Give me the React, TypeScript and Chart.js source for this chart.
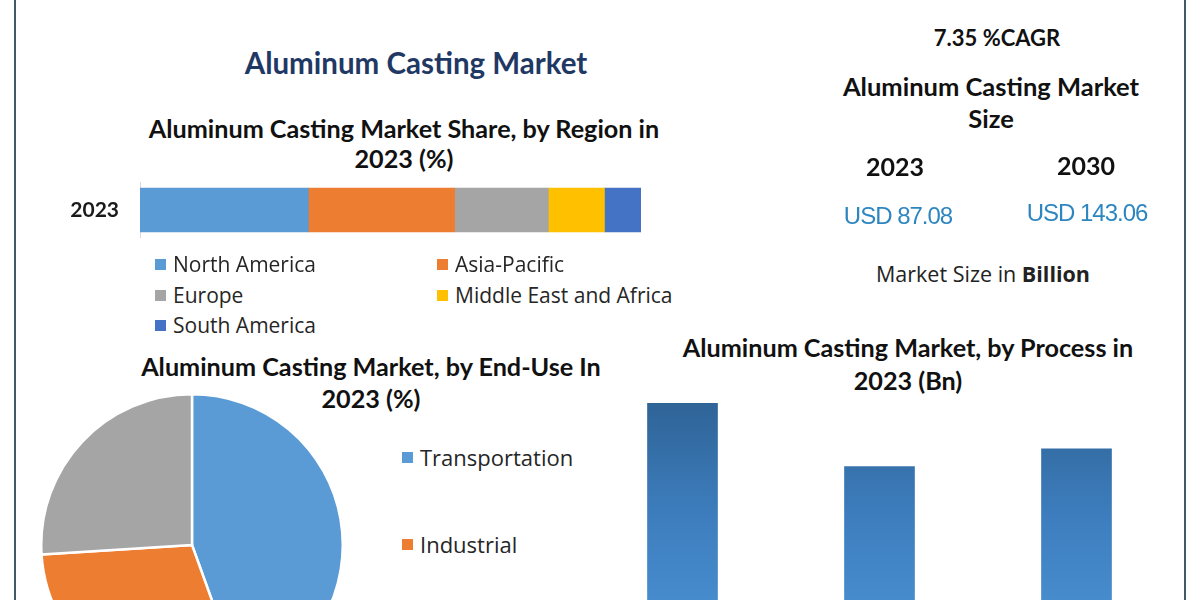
import React, { useEffect, useRef } from "react";
import Chart from "chart.js/auto";

// ---------- data ----------
const mainTitle = "Aluminum Casting Market";
const regionTitle = ["Aluminum Casting Market Share, by Region in", "2023 (%)"];
const regionCategories = ["2023"];
const regionNames = ["North America", "Asia-Pacific", "Europe", "Middle East and Africa", "South America"];
const regionShares = [33.6, 29.2, 18.7, 11.2, 7.3];

const endUseTitle = ["Aluminum Casting Market, by End-Use In", "2023 (%)"];
const endUseLabels = ["Transportation", "Industrial", "Others"];
const endUseShares = [44.5, 29.5, 26.0];

const processTitle = ["Aluminum Casting Market, by Process in", "2023 (Bn)"];
const processLabels = ["Die Casting", "Permanent Mold Casting", "Sand Casting"];
const processValues = [35, 26, 28.5];

const cagrText = "7.35 %CAGR";
const sizeTitle = ["Aluminum Casting Market", "Size"];
const sizeYears = ["2023", "2030"];
const sizeValues = ["USD 87.08", "USD 143.06"];

// ---------- styles ----------
const palette = ["#5b9bd5", "#ed7d31", "#a5a5a5", "#ffc000", "#4472c4"];
const TITLE_FONT = "Lato, 'Noto Sans', sans-serif";
const BODY_FONT = "'Open Sans', 'Noto Sans', sans-serif";

type TxtProps = { cx: number; cy: number; size: number; weight?: number; color?: string; font?: string; ls?: string; children: React.ReactNode };
function Txt({ cx, cy, size, weight = 700, color = "#111", font = TITLE_FONT, ls, children }: TxtProps) {
  const lh = Math.round(size * 1.25);
  return (
    <div
      style={{
        position: "absolute",
        left: cx - 320,
        width: 640,
        top: cy - lh / 2,
        lineHeight: `${lh}px`,
        fontSize: size,
        fontWeight: weight,
        color,
        fontFamily: font,
        textAlign: "center",
        whiteSpace: "nowrap",
        letterSpacing: ls,
      }}
    >
      {children}
    </div>
  );
}

function LegendItem({ x, cy, color, label, size }: { x: number; cy: number; color: string; label: string; size: number }) {
  return (
    <div
      style={{
        position: "absolute",
        left: x,
        top: cy - 14,
        height: 28,
        lineHeight: "28px",
        display: "flex",
        alignItems: "center",
        fontFamily: BODY_FONT,
        fontSize: size,
        color: "#262626",
        whiteSpace: "nowrap",
      }}
    >
      <span style={{ display: "inline-block", width: 11, height: 11, background: color, marginRight: 7 }} />
      {label}
    </div>
  );
}

export default function App() {
  const regionRef = useRef<HTMLCanvasElement>(null);
  const pieRef = useRef<HTMLCanvasElement>(null);
  const barRef = useRef<HTMLCanvasElement>(null);

  useEffect(() => {
    const charts: Chart[] = [];

    charts.push(
      new Chart(regionRef.current!, {
        type: "bar",
        data: {
          labels: regionCategories,
          datasets: regionNames.map((n, i) => ({
            label: n,
            data: [regionShares[i]],
            backgroundColor: palette[i],
            barThickness: 44,
            borderWidth: 0,
          })),
        },
        options: {
          responsive: false,
          animation: false,
          indexAxis: "y",
          layout: { padding: 0 },
          plugins: { legend: { display: false }, tooltip: { enabled: false } },
          scales: {
            x: { stacked: true, min: 0, max: 100, display: false },
            y: {
              stacked: true,
              grid: { display: false },
              border: { display: true, color: "#d9d9d9", width: 1 },
              ticks: { color: "#1a1a1a", font: { family: TITLE_FONT, size: 21, weight: "bold" }, padding: 13 },
              afterFit: (s: any) => {
                s.width = 100;
              },
            },
          },
        },
      })
    );

    charts.push(
      new Chart(pieRef.current!, {
        type: "pie",
        data: {
          labels: endUseLabels,
          datasets: [
            {
              data: endUseShares,
              backgroundColor: [palette[0], palette[1], palette[2]],
              borderColor: "#ffffff",
              borderWidth: 2.5,
            },
          ],
        },
        options: {
          responsive: false,
          animation: false,
          layout: { padding: 0 },
          plugins: { legend: { display: false }, tooltip: { enabled: false } },
        },
      })
    );

    charts.push(
      new Chart(barRef.current!, {
        type: "bar",
        data: {
          labels: processLabels,
          datasets: [
            {
              data: processValues,
              barThickness: 70,
              borderWidth: 0,
              backgroundColor: (ctx: any) => {
                const { chart } = ctx;
                const area = chart.chartArea;
                if (!area) return "#3f80c0";
                const g = chart.ctx.createLinearGradient(0, area.top, 0, area.bottom);
                g.addColorStop(0, "#2f6497");
                g.addColorStop(0.45, "#3d7dbd");
                g.addColorStop(1, "#4c94d6");
                return g;
              },
            },
          ],
        },
        options: {
          responsive: false,
          animation: false,
          layout: { padding: 0 },
          plugins: { legend: { display: false }, tooltip: { enabled: false } },
          scales: {
            x: { display: false },
            y: { display: false, min: 0, max: 35 },
          },
        },
      })
    );

    return () => charts.forEach((c) => c.destroy());
  }, []);

  const valueFont = "'Liberation Sans', Arial, sans-serif";

  return (
    <div
      style={{
        position: "fixed",
        left: 0,
        top: 0,
        width: 1200,
        height: 600,
        overflow: "hidden",
        background: "#ffffff",
      }}
    >
      {/* frame lines */}
      <div style={{ position: "absolute", left: 14, top: 0, width: 2, height: 600, background: "#3f5b66" }} />
      <div style={{ position: "absolute", left: 1184, top: 0, width: 2, height: 600, background: "#3f5b66" }} />

      <Txt cx={416} cy={62} size={29.5} color="#1f3864">{mainTitle}</Txt>

      <Txt cx={404} cy={128} size={25.2}>{regionTitle[0]}</Txt>
      <Txt cx={404} cy={158} size={25.2}>{regionTitle[1]}</Txt>

      <canvas ref={regionRef} width={601} height={106} style={{ position: "absolute", left: 40, top: 157 }} />

      <LegendItem x={155} cy={264} color={palette[0]} label={regionNames[0]} size={21} />
      <LegendItem x={437} cy={264} color={palette[1]} label={regionNames[1]} size={21} />
      <LegendItem x={155} cy={295} color={palette[2]} label={regionNames[2]} size={21} />
      <LegendItem x={437} cy={295} color={palette[3]} label={regionNames[3]} size={21} />
      <LegendItem x={155} cy={325} color={palette[4]} label={regionNames[4]} size={21} />

      <Txt cx={371} cy={366} size={25.2}>{endUseTitle[0]}</Txt>
      <Txt cx={371} cy={398} size={25.2}>{endUseTitle[1]}</Txt>

      <canvas ref={pieRef} width={304} height={304} style={{ position: "absolute", left: 40, top: 393 }} />

      <LegendItem x={402} cy={457} color={palette[0]} label={endUseLabels[0]} size={22} />
      <LegendItem x={402} cy={544} color={palette[1]} label={endUseLabels[1]} size={22} />
      <LegendItem x={402} cy={631} color={palette[2]} label={endUseLabels[2]} size={22} />

      <Txt cx={908} cy={347} size={25.2}>{processTitle[0]}</Txt>
      <Txt cx={908} cy={380} size={25.2}>{processTitle[1]}</Txt>

      <canvas ref={barRef} width={591} height={247} style={{ position: "absolute", left: 584, top: 403 }} />

      <Txt cx={997} cy={38} size={22}>{cagrText}</Txt>
      <Txt cx={991} cy={86} size={25.5}>{sizeTitle[0]}</Txt>
      <Txt cx={991} cy={118} size={25.5}>{sizeTitle[1]}</Txt>
      <Txt cx={895} cy={166} size={25}>{sizeYears[0]}</Txt>
      <Txt cx={1086} cy={165} size={25}>{sizeYears[1]}</Txt>
      <Txt cx={898} cy={216} size={24} weight={400} color="#2e86c1" font={valueFont} ls="-1px">{sizeValues[0]}</Txt>
      <Txt cx={1087} cy={213} size={24} weight={400} color="#2e86c1" font={valueFont} ls="-1px">{sizeValues[1]}</Txt>
      <Txt cx={983} cy={273} size={21.5} weight={400} color="#222" font={BODY_FONT}>
        Market Size in <b>Billion</b>
      </Txt>
    </div>
  );
}
